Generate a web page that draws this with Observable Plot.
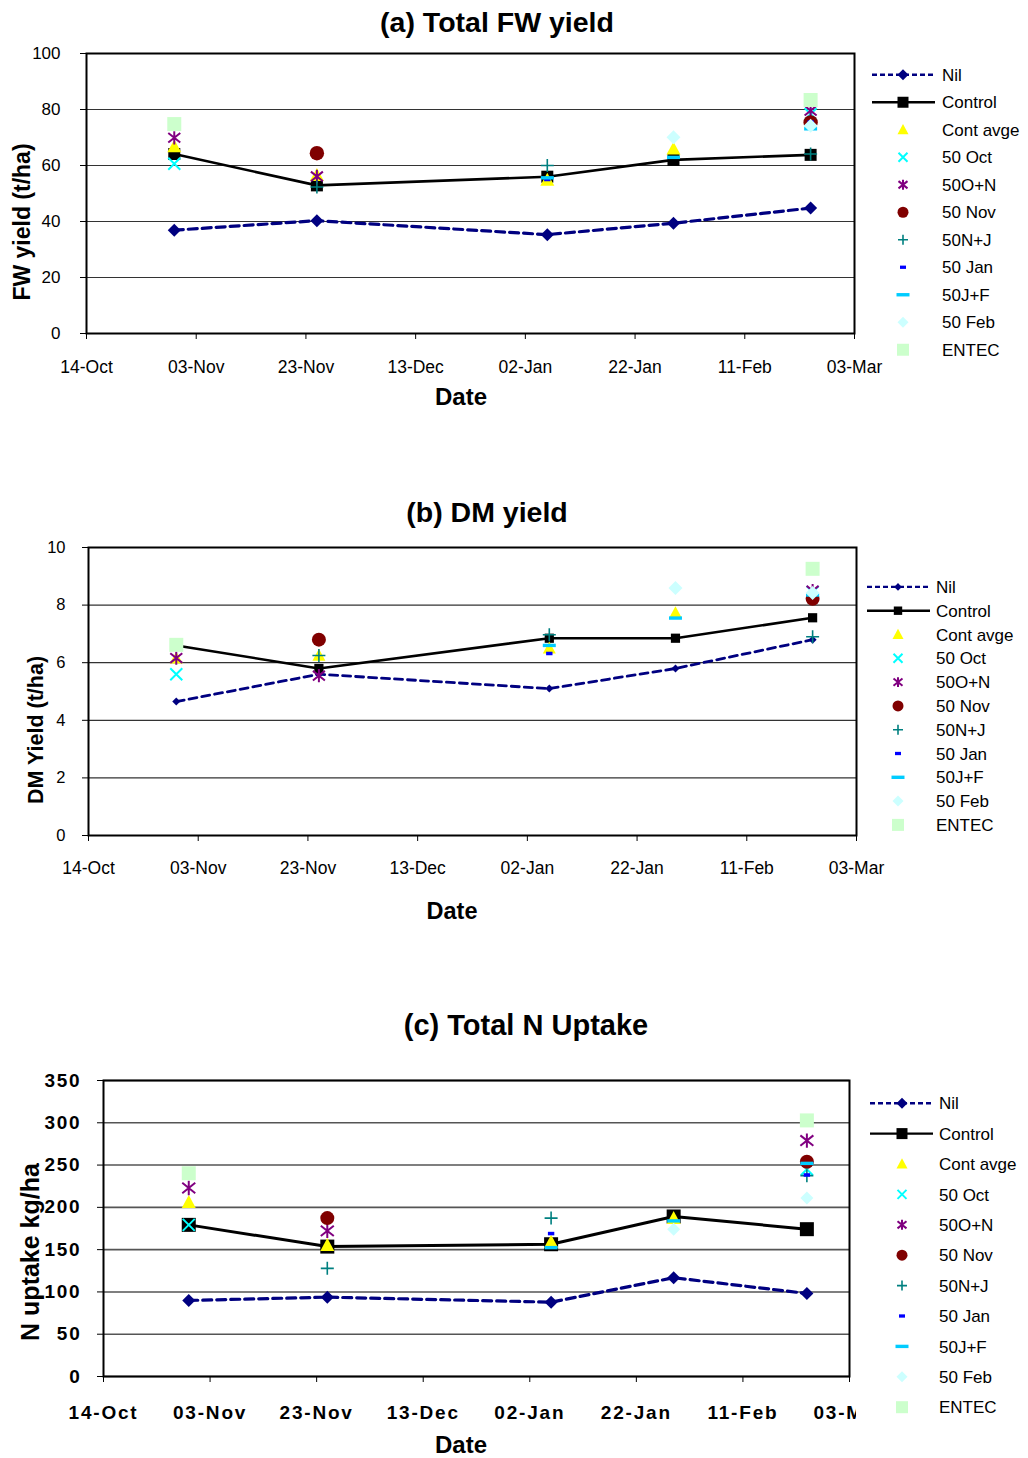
<!DOCTYPE html>
<html><head><meta charset="utf-8">
<script src="https://cdn.jsdelivr.net/npm/d3@7"></script>
<script src="https://cdn.jsdelivr.net/npm/@observablehq/plot@0.6"></script>
<style>
body{margin:0;background:#fff;font-family:"Liberation Sans",Arial,sans-serif;}
#root{position:relative;width:1028px;height:1458px;overflow:hidden;background:#fff;}
.ctr{position:absolute;font-weight:bold;white-space:nowrap;line-height:1;transform:translate(-50%,-50%);color:#000;}
.rot{position:absolute;font-weight:bold;white-space:nowrap;line-height:1;transform:translate(-50%,-50%) rotate(-90deg);color:#000;}
</style></head><body><div id="root"></div>
<script>
// ---------- data ----------
const dates = ["2006-10-30","2006-11-25","2007-01-06","2007-01-29","2007-02-23"];
const series = ["Nil","Control","Cont avge","50 Oct","50O+N","50 Nov","50N+J","50 Jan","50J+F","50 Feb","ENTEC"];
const xTickDates = ["2006-10-14","2006-11-03","2006-11-23","2006-12-13","2007-01-02","2007-01-22","2007-02-11","2007-03-03"];
const xTickLabels = ["14-Oct","03-Nov","23-Nov","13-Dec","02-Jan","22-Jan","11-Feb","03-Mar"];
const fwTicks = [0,20,40,60,80,100];
const dmTicks = [0,2,4,6,8,10];
const nTicks = [0,50,100,150,200,250,300,350];
// rows follow `series`, columns follow `dates`
const fwValues = [
  [36.9, 40.3, 35.3, 39.4, 44.8],
  [64.1, 52.9, 56.0, 62.0, 63.8],
  [66.7, 56.5, 54.8, 65.9, null],
  [60.6, null, null, null, 78.4],
  [69.9, 56.1, null, null, 79.6],
  [null, 64.4, null, null, 75.4],
  [null, 52.3, 60.0, null, 64.1],
  [null, null, 55.0, null, 75.5],
  [null, null, 55.6, 62.9, 73.1],
  [null, null, null, 70.1, 74.2],
  [74.8, null, null, null, 83.4]
];
const dmValues = [
  [4.65, 5.6, 5.1, 5.8, 6.8],
  [6.6, 5.8, 6.85, 6.85, 7.56],
  [6.15, 6.25, 6.5, 7.72, null],
  [5.6, null, null, null, 8.45],
  [6.16, 5.55, null, null, 8.5],
  [null, 6.8, null, null, 8.22],
  [null, 6.25, 6.97, null, 6.9],
  [null, null, 6.32, null, 8.45],
  [null, null, 6.6, 7.55, 8.35],
  [null, null, null, 8.59, 8.42],
  [6.62, null, null, null, 9.26]
];
const nValues = [
  [89.9, 93.8, 87.9, 116.8, 98.2],
  [179.3, 153.6, 156.4, 189.2, 174.2],
  [205.8, 155.0, 159.0, 187.0, null],
  [179.3, null, null, null, 245.0],
  [222.9, 172.2, null, null, 279.0],
  [null, 187.3, null, null, 254.0],
  [null, 127.9, 187.3, null, 237.5],
  [null, null, 169.0, null, 238.3],
  [null, null, 152.4, 184.0, 252.0],
  [null, null, null, 174.2, 211.0],
  [240.3, null, null, null, 302.8]
];

// ---------- styles ----------
function shape(kind){
  return {draw(ctx, size){
    const r = Math.sqrt(size/Math.PI);
    switch(kind){
      case "diamond": ctx.moveTo(0,-r);ctx.lineTo(r,0);ctx.lineTo(0,r);ctx.lineTo(-r,0);ctx.closePath();break;
      case "square": ctx.moveTo(-r,-r);ctx.lineTo(r,-r);ctx.lineTo(r,r);ctx.lineTo(-r,r);ctx.closePath();break;
      case "triangle": ctx.moveTo(0,-r*1.05);ctx.lineTo(r,r*0.8);ctx.lineTo(-r,r*0.8);ctx.closePath();break;
      case "times": ctx.moveTo(-r,-r);ctx.lineTo(r,r);ctx.moveTo(r,-r);ctx.lineTo(-r,r);break;
      case "star": ctx.moveTo(-r,-r*0.8);ctx.lineTo(r,r*0.8);ctx.moveTo(r,-r*0.8);ctx.lineTo(-r,r*0.8);ctx.moveTo(0,-r*1.1);ctx.lineTo(0,r*1.1);break;
      case "circle": ctx.moveTo(r,0);ctx.arc(0,0,r,0,2*Math.PI);ctx.closePath();break;
      case "plus": ctx.moveTo(-r,0);ctx.lineTo(r,0);ctx.moveTo(0,-r);ctx.lineTo(0,r);break;
      case "dash": ctx.moveTo(-r,-r*0.55);ctx.lineTo(r,-r*0.55);ctx.lineTo(r,r*0.55);ctx.lineTo(-r,r*0.55);ctx.closePath();break;
      case "bar": ctx.moveTo(-r,-1.7);ctx.lineTo(r,-1.7);ctx.lineTo(r,1.7);ctx.lineTo(-r,1.7);ctx.closePath();break;
    }
  }};
}
const sty = {
  "Nil":       {kind:"diamond", fill:"#000080"},
  "Control":   {kind:"square", fill:"#000000"},
  "Cont avge": {kind:"triangle", fill:"#FFFF00"},
  "50 Oct":    {kind:"times", stroke:"#00FFFF", sw:2},
  "50O+N":     {kind:"star", stroke:"#800080", sw:2},
  "50 Nov":    {kind:"circle", fill:"#800000"},
  "50N+J":     {kind:"plus", stroke:"#008080", sw:1.6},
  "50 Jan":    {kind:"dash", fill:"#0000FF"},
  "50J+F":     {kind:"bar", fill:"#00CCFF"},
  "50 Feb":    {kind:"diamond", fill:"#CCFFFF"},
  "ENTEC":     {kind:"square", fill:"#CCFFCC"}
};
const symbols = Object.fromEntries(series.map(s=>[s, shape(sty[s].kind)]));

const root = document.getElementById("root");
const parseD = d3.utcParse("%Y-%m-%d");
const xTicks = xTickDates.map(parseD);
const xDomain = [xTicks[0], xTicks[xTicks.length-1]];

function addText(cls, txt, x, y, size){
  const d = document.createElement("div");
  d.className = cls; d.textContent = txt;
  d.style.left = x+"px"; d.style.top = y+"px"; d.style.fontSize = size+"px";
  root.appendChild(d);
}

function panel(cfg){
  const rows = [];
  series.forEach((s,i)=>dates.forEach((d,j)=>{
    const v = cfg.values[i][j];
    if (v != null) rows.push({series:s, date:parseD(d), value:v});
  }));
  const marks = [Plot.gridY(cfg.yTicks, {stroke:cfg.gridColor, strokeOpacity:1, strokeWidth:cfg.gridWidth})];
  series.forEach(s=>{
    const data = rows.filter(r=>r.series===s);
    if (s==="Nil") marks.push(Plot.line(data, {x:"date", y:"value", stroke:"#000080", strokeWidth:cfg.nilW, strokeDasharray:cfg.nilDash}));
    if (s==="Control") marks.push(Plot.line(data, {x:"date", y:"value", stroke:"#000", strokeWidth:cfg.ctlW}));
    const st = sty[s];
    marks.push(Plot.dot(data, {x:"date", y:"value", symbol:symbols[s], r:cfg.r[s],
      fill: st.fill || "none", stroke: st.stroke || "none", strokeWidth: st.sw || 1}));
  });
  marks.push(Plot.frame({stroke:"#000", strokeWidth:2}));
  marks.push(Plot.axisX(xTicks, {tickSize:6, tickPadding:cfg.xPad, label:null,
    tickFormat:d=>xTickLabels[xTicks.findIndex(t=>+t===+d)],
    fontSize:cfg.xFont, fontWeight:cfg.xWeight}));
  marks.push(Plot.axisY(cfg.yTicks, {tickSize:6, tickPadding:cfg.yPad, label:null,
    fontSize:cfg.yFont, fontWeight:cfg.yWeight}));
  const p = Plot.plot({
    width:cfg.width, height:cfg.height,
    marginLeft:cfg.ml, marginRight:cfg.width-cfg.plotRight, marginTop:cfg.mt, marginBottom:cfg.height-cfg.plotBottom,
    x:{type:"utc", domain:xDomain, label:null},
    y:{domain:cfg.yDomain, label:null},
    style:{fontFamily:"'Liberation Sans', Arial, sans-serif", fontSize:cfg.xFont+"px", background:"transparent",
      letterSpacing:cfg.letter||"normal", color:"#000"},
    marks
  });
  p.style.position = "absolute"; p.style.left = "0px"; p.style.top = cfg.top+"px";
  p.style.overflow = "hidden";
  root.appendChild(p);

  // legend
  const L = cfg.legend;
  const svg = d3.create("svg").attr("width",1028-L.x0+4).attr("height", L.dy*11+20)
    .style("position","absolute").style("left",(L.x0-2)+"px").style("top",(L.y0-L.dy/2-5)+"px").style("overflow","visible");
  const g = svg.append("g").attr("transform",`translate(${-(L.x0-2)},${-(L.y0-L.dy/2-5)})`);
  series.forEach((s,i)=>{
    const y = L.y0 + i*L.dy;
    if (s==="Nil") g.append("line").attr("x1",L.x0).attr("x2",L.x1).attr("y1",y).attr("y2",y)
      .attr("stroke","#000080").attr("stroke-width",2.4).attr("stroke-dasharray","5,3");
    if (s==="Control") g.append("line").attr("x1",L.x0).attr("x2",L.x1).attr("y1",y).attr("y2",y)
      .attr("stroke","#000").attr("stroke-width",2.4);
    const st = sty[s]; const r = L.r[s];
    g.append("path").attr("d", d3.symbol(symbols[s], r*r*Math.PI)())
      .attr("transform",`translate(${L.mx},${y})`)
      .attr("fill", st.fill||"none").attr("stroke", st.stroke||"none").attr("stroke-width", st.sw||1);
    g.append("text").attr("x",L.tx).attr("y",y).attr("dy","0.36em").text(s)
      .attr("font-family","'Liberation Sans', Arial, sans-serif").attr("font-size",L.font).attr("fill","#000");
  });
  root.appendChild(svg.node());
}

const legR = {"Nil":5.5,"Control":5.5,"Cont avge":5.5,"50 Oct":4.5,"50O+N":4.5,"50 Nov":5.5,"50N+J":5,"50 Jan":3,"50J+F":6.5,"50 Feb":5.5,"ENTEC":6};

// (a)
panel({
  values:fwValues, yTicks:fwTicks, yDomain:[0,100],
  top:0, width:890, height:410, ml:86, plotRight:854, mt:53, plotBottom:333,
  xPad:21, yPad:20, xFont:17.5, yFont:17, xWeight:"normal", yWeight:"normal",
  gridColor:"#333", gridWidth:1.2, nilW:3.2, nilDash:"9,5", ctlW:2.6,
  r:{"Nil":6.5,"Control":6,"Cont avge":7,"50 Oct":6,"50O+N":6,"50 Nov":7.2,"50N+J":6.5,"50 Jan":3.2,"50J+F":6.5,"50 Feb":7,"ENTEC":7},
  legend:{x0:872,x1:935,mx:903,tx:942,y0:75,dy:27.5,font:17,r:legR}
});
addText("ctr","(a) Total FW yield",497,22,28.5);
addText("rot","FW yield (t/ha)",22,222,23);
addText("ctr","Date",461,397,24);

// (b)
panel({
  values:dmValues, yTicks:dmTicks, yDomain:[0,10],
  top:500, width:890, height:430, ml:88, plotRight:856, mt:47, plotBottom:335,
  xPad:20, yPad:17, xFont:17.5, yFont:16.5, xWeight:"normal", yWeight:"normal",
  gridColor:"#333", gridWidth:1.2, nilW:2.8, nilDash:"8,5", ctlW:2.6,
  r:{"Nil":4,"Control":4.6,"Cont avge":6.5,"50 Oct":6,"50O+N":6,"50 Nov":7,"50N+J":6.5,"50 Jan":3.2,"50J+F":6.5,"50 Feb":7,"ENTEC":7},
  legend:{x0:867,x1:930,mx:898,tx:936,y0:587,dy:23.8,font:17,r:Object.assign({},legR,{"Nil":3.8,"Control":4.2})}
});
addText("ctr","(b) DM yield",487,512,28.5);
addText("rot","DM Yield (t/ha)",37,730,21.5);
addText("ctr","Date",452,912,23.5);

// (c)
panel({
  values:nValues, yTicks:nTicks, yDomain:[0,350],
  top:1040, width:856, height:418, ml:103, plotRight:849, mt:40, plotBottom:336,
  xPad:23, yPad:16, xFont:19, yFont:19, xWeight:"bold", yWeight:"bold", letter:"1.8px",
  gridColor:"#555", gridWidth:1.6, nilW:3.2, nilDash:"9,5", ctlW:3,
  r:{"Nil":6.5,"Control":7,"Cont avge":7,"50 Oct":6,"50O+N":6.5,"50 Nov":7,"50N+J":6.5,"50 Jan":3.2,"50J+F":6.5,"50 Feb":6.5,"ENTEC":7},
  legend:{x0:870,x1:933,mx:902,tx:939,y0:1103,dy:30.4,font:17,r:legR}
});
addText("ctr","(c) Total N Uptake",526,1025,29);
addText("rot","N uptake kg/ha",30,1252,25);
addText("ctr","Date",461,1445,24);
</script></body></html>
